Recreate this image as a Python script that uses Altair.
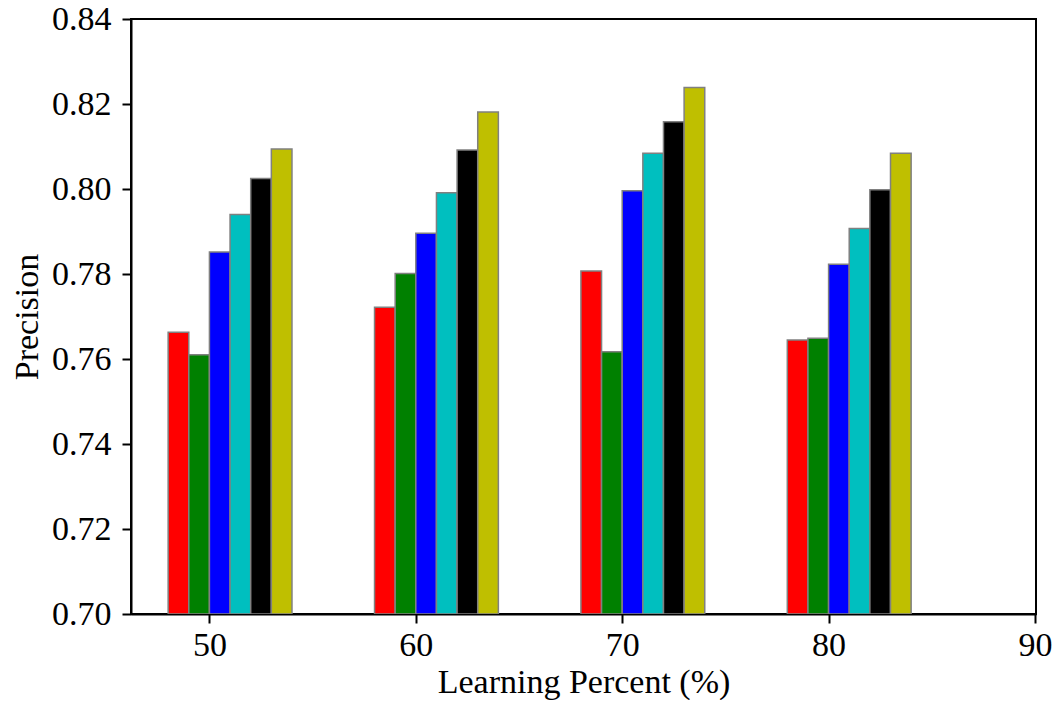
import altair as alt
import pandas as pd

groups = [50, 60, 70, 80]
series = ["S1", "S2", "S3", "S4", "S5", "S6"]
colors = ["#ff0000", "#008000", "#0000ff", "#00bfbf", "#000000", "#bfbf00"]

s1 = [0.7663, 0.7722, 0.7807, 0.7645]
s2 = [0.7610, 0.7801, 0.7617, 0.7649]
s3 = [0.7852, 0.7896, 0.7996, 0.7823]
s4 = [0.7940, 0.7991, 0.8084, 0.7907]
s5 = [0.8025, 0.8092, 0.8158, 0.7998]
s6 = [0.8094, 0.8181, 0.8239, 0.8084]

y_ticks = [0.70, 0.72, 0.74, 0.76, 0.78, 0.80, 0.82, 0.84]
x_ticks = [50, 60, 70, 80, 90]

rows = []
for i, vals in enumerate([s1, s2, s3, s4, s5, s6]):
    for g, v in zip(groups, vals):
        rows.append({"series": series[i], "x0": g - 2 + i, "x1": g - 1 + i,
                     "value": v, "base": 0.70})
df = pd.DataFrame(rows)

font = "Liberation Serif"

chart = (
    alt.Chart(df)
    .mark_bar(stroke="#808080", strokeWidth=1.5, clip=True)
    .encode(
        x=alt.X("x0:Q", title="Learning Percent (%)",
                scale=alt.Scale(domain=[46.2, 90.05], nice=False, zero=False),
                axis=alt.Axis(values=x_ticks, format="d",
                              titleBaseline="alphabetic", titleY=78)),
        x2="x1:Q",
        y=alt.Y("value:Q", title="Precision",
                scale=alt.Scale(domain=[0.70, 0.84], nice=False, zero=False),
                axis=alt.Axis(values=y_ticks, format=".2f")),
        y2="base:Q",
        color=alt.Color("series:N", legend=None,
                        scale=alt.Scale(domain=series, range=colors)),
    )
    .properties(
        width=905,
        height=595,
        autosize=alt.AutoSizeParams(type="none"),
        padding={"left": 123, "top": 11, "right": 20, "bottom": 86},
    )
    .configure_view(stroke="black", strokeWidth=2)
    .configure_axis(
        grid=False,
        domainColor="black",
        domainWidth=2,
        tickColor="black",
        tickWidth=2,
        tickSize=9,
        labelFont=font,
        labelFontSize=34,
        labelColor="black",
        titleFont=font,
        titleFontSize=34,
        titleFontWeight="normal",
        titleColor="black",
    )
    .configure_axisY(labelPadding=11, titlePadding=7)
    .configure_axisX(labelPadding=5)
)

chart.save("out.html", embed_options={"renderer": "svg", "actions": False})
